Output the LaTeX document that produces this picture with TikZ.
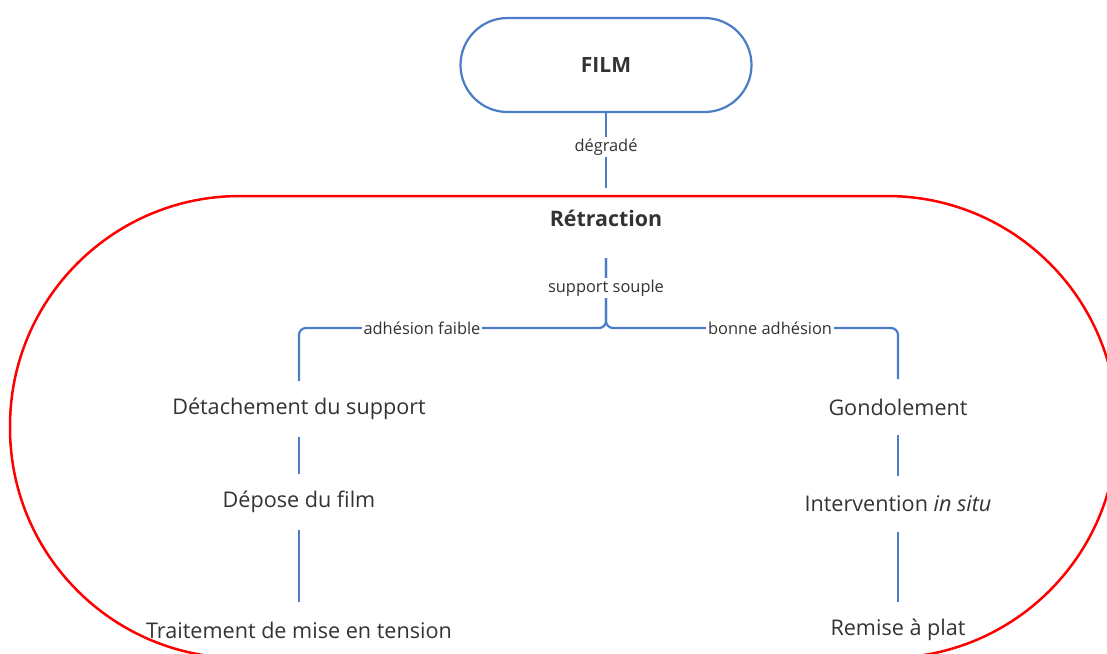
\documentclass[tikz,border=0pt]{standalone}
\usepackage{fontspec}
\setmainfont{Open Sans}
\usetikzlibrary{positioning}
\definecolor{linkblue}{RGB}{74,124,200}
\definecolor{txtgray}{RGB}{51,51,51}

\begin{document}
\begin{tikzpicture}[x=1pt,y=-1pt,
        link/.style={draw=linkblue,line width=2.2pt},
        step box/.style={text=txtgray,font=\fontsize{21.6}{25}\selectfont,inner sep=0pt,outer sep=0pt,minimum height=56pt},
        head/.style={step box,font=\fontsize{21.4}{25}\selectfont\bfseries},
        tag/.style={text=txtgray,font=\fontsize{16.4}{19}\selectfont,fill=white,inner sep=2pt}]
        \useasboundingbox (0,0) rectangle (1107,653);
        \clip (0,0) rectangle (1107,653);
        \draw[red,line width=2.5pt,rounded corners=230pt] (10,196) rectangle (1117,658);
        \node[draw=linkblue,line width=2.2pt,rounded corners=47pt,minimum width=291pt,minimum height=94pt,
            text=txtgray,font=\fontsize{21}{25}\selectfont\bfseries] (film) at (606,65) {FILM};
        \node[head,minimum height=60pt] (retr) at (606,218) {Rétraction};
        \coordinate (split) at (606,328);
        \node[step box] (det) at (299,409) {Détachement du support};
        \node[step box] (dep) at (299,502) {Dépose du film};
        \node[step box] (trait) at (299,630) {Traitement de mise en tension};
        \node[step box] (gond) at (898,407) {Gondolement};
        \node[step box] (interv) at (898,504) {Intervention \textit{in situ}};
        \node[step box] (remise) at (898,630) {Remise à plat};
        \draw[link] (film) -- (retr);
        \draw[link,rounded corners=7pt,shorten <=10pt] (retr) -- (split) -| (det);
        \draw[link,rounded corners=7pt,shorten <=10pt] (retr) -- (split) -| (gond);
        \draw[link] (det) -- (dep);
        \draw[link] (dep) -- (trait);
        \draw[link] (gond) -- (interv);
        \draw[link] (interv) -- (remise);
        \node[tag] (degr) at (606,147) {dégradé};
        \node[tag] (souple) at (606,288) {support souple};
        \node[tag] (faible) at (422,328) {adhésion faible};
        \node[tag] (bonne) at (770,328) {bonne adhésion};
    \end{tikzpicture}
\end{document}
